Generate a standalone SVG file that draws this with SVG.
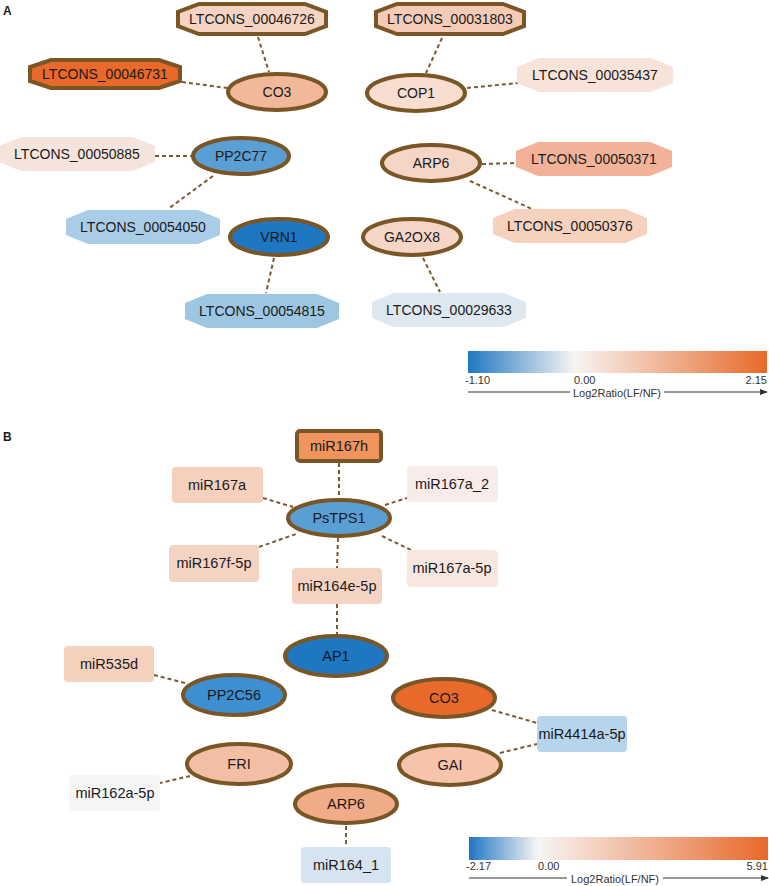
<svg xmlns="http://www.w3.org/2000/svg" width="769" height="886" viewBox="0 0 769 886">
<style>
text{font-family:"Liberation Sans",Arial,sans-serif;fill:#1a1a1a}
.la{font-size:14px;text-anchor:middle;dominant-baseline:central}
.lb{font-size:14.5px;text-anchor:middle;dominant-baseline:central}
.bd{stroke:#7a5626;stroke-width:4}
.e{stroke:#7a5a30;stroke-width:2;stroke-dasharray:4 3;fill:none}
.pl{font-size:12px;font-weight:bold}
.lg{font-size:11px;fill:#333}
</style>
<defs>
<linearGradient id="gA" x1="0" x2="1" y1="0" y2="0">
<stop offset="0" stop-color="#1f77c2"/><stop offset="0.355" stop-color="#f7f5f4"/><stop offset="1" stop-color="#e8692a"/>
</linearGradient>
<linearGradient id="gB" x1="0" x2="1" y1="0" y2="0">
<stop offset="0" stop-color="#1f77c2"/><stop offset="0.23" stop-color="#f7f5f4"/><stop offset="1" stop-color="#e8692a"/>
</linearGradient>
<marker id="ar" markerWidth="8" markerHeight="6" refX="7" refY="3" orient="auto" markerUnits="userSpaceOnUse">
<path d="M0,0 L8,3 L0,6 z" fill="#333"/>
</marker>
</defs>
<rect width="769" height="886" fill="#fff"/>
<text class="pl" x="3" y="15">A</text>
<text class="pl" x="3" y="441">B</text>
<g id="edges">
<line class="e" x1="258" y1="37" x2="269" y2="72"/>
<line class="e" x1="182" y1="82" x2="227" y2="88"/>
<line class="e" x1="155" y1="156" x2="191" y2="156"/>
<line class="e" x1="213" y1="176" x2="168" y2="209"/>
<line class="e" x1="274" y1="258" x2="266" y2="293"/>
<line class="e" x1="442" y1="38" x2="426" y2="73"/>
<line class="e" x1="467" y1="88" x2="518" y2="83"/>
<line class="e" x1="482" y1="164" x2="516" y2="163"/>
<line class="e" x1="470" y1="181" x2="532" y2="209"/>
<line class="e" x1="423" y1="258" x2="440" y2="292"/>
<line class="e" x1="339" y1="463" x2="339" y2="498"/>
<line class="e" x1="263" y1="498" x2="293" y2="507"/>
<line class="e" x1="259" y1="547" x2="296" y2="534"/>
<line class="e" x1="338" y1="538" x2="337" y2="568"/>
<line class="e" x1="385" y1="505" x2="407" y2="498"/>
<line class="e" x1="382" y1="536" x2="411" y2="550"/>
<line class="e" x1="337" y1="604" x2="337" y2="634"/>
<line class="e" x1="154" y1="675" x2="185" y2="683"/>
<line class="e" x1="190" y1="776" x2="160" y2="783"/>
<line class="e" x1="346" y1="826" x2="346" y2="847"/>
<line class="e" x1="492" y1="710" x2="537" y2="723"/>
<line class="e" x1="500" y1="753" x2="537" y2="744"/>
</g>
<g id="n46726"><polygon class="bd" fill="#f5d3c3" points="199,4 305,4 326,12 326,26 305,34 199,34 178,26 178,12"/><text class="la" x="252" y="19">LTCONS_00046726</text></g>
<g id="n46731"><polygon class="bd" fill="#e8692a" points="51,60 159,60 180,67 180,81 159,88 51,88 30,81 30,67"/><text class="la" x="105" y="74">LTCONS_00046731</text></g>
<g id="n31803"><polygon class="bd" fill="#f5cbb7" points="397,4 503,4 524,12 524,26 503,34 397,34 376,26 376,12"/><text class="la" x="450" y="19">LTCONS_00031803</text></g>
<g id="n35437"><polygon fill="#f7e3d8" points="539,58 651,58 673,67 673,83 651,92 539,92 517,83 517,67"/><text class="la" x="595" y="75">LTCONS_00035437</text></g>
<g id="n50885"><polygon fill="#f5e4db" points="21,137 133,137 155,146 155,162 133,171 21,171 -1,162 -1,146"/><text class="la" x="77" y="154">LTCONS_00050885</text></g>
<g id="n50371"><polygon fill="#f2b298" points="538,142 650,142 672,151 672,167 650,176 538,176 516,167 516,151"/><text class="la" x="594" y="159">LTCONS_00050371</text></g>
<g id="n50376"><polygon fill="#f5d1be" points="515,209 625,209 647,218 647,234 625,243 515,243 493,234 493,218"/><text class="la" x="570" y="226">LTCONS_00050376</text></g>
<g id="n54050"><polygon fill="#a9cde6" points="88,210 198,210 220,219 220,235 198,244 88,244 66,235 66,219"/><text class="la" x="143" y="227">LTCONS_00054050</text></g>
<g id="n54815"><polygon fill="#9dc6e3" points="207,294 317,294 339,303 339,319 317,328 207,328 185,319 185,303"/><text class="la" x="262" y="311">LTCONS_00054815</text></g>
<g id="n29633"><polygon fill="#dde8f1" points="394,293 504,293 526,302 526,318 504,327 394,327 372,318 372,302"/><text class="la" x="449" y="310">LTCONS_00029633</text></g>
<g id="aCO3"><ellipse class="bd" fill="#f1b899" cx="277" cy="92" rx="49" ry="18"/><text class="la" x="277" y="92">CO3</text></g>
<g id="aPP2C77"><ellipse class="bd" fill="#5a9fd4" cx="241" cy="156" rx="48" ry="18"/><text class="la" x="241" y="156">PP2C77</text></g>
<g id="aVRN1"><ellipse class="bd" fill="#1f77c2" cx="279" cy="237" rx="49" ry="18"/><text class="la" x="279" y="237">VRN1</text></g>
<g id="aCOP1"><ellipse class="bd" fill="#f8ddd0" cx="416" cy="93" rx="49" ry="18"/><text class="la" x="416" y="93">COP1</text></g>
<g id="aARP6"><ellipse class="bd" fill="#f5d5c6" cx="431" cy="163" rx="49" ry="18"/><text class="la" x="431" y="163">ARP6</text></g>
<g id="aGA2OX8"><ellipse class="bd" fill="#f5d5c6" cx="412" cy="237" rx="49" ry="18"/><text class="la" x="412" y="237">GA2OX8</text></g>
<g id="legendA">
<rect x="468" y="351" width="299" height="22" fill="url(#gA)"/>
<text class="lg" x="465" y="384">-1.10</text>
<text class="lg" x="574" y="384">0.00</text>
<text class="lg" x="767" y="384" text-anchor="end">2.15</text>
<line x1="468" y1="392" x2="570" y2="392" stroke="#333" stroke-width="1"/>
<line x1="664" y1="392" x2="767" y2="392" stroke="#333" stroke-width="1" marker-end="url(#ar)"/>
<text class="lg" x="617" y="397" text-anchor="middle">Log2Ratio(LF/NF)</text>
</g>
<g id="b167h"><rect class="bd" fill="#f0945e" x="297" y="431" width="84" height="30" rx="3"/><text class="lb" x="339" y="446">miR167h</text></g>
<g id="b167a"><rect fill="#f5d0bc" x="172" y="467" width="91" height="36" rx="4"/><text class="lb" x="217" y="485">miR167a</text></g>
<g id="b167f"><rect fill="#f5d3c3" x="169" y="545" width="90" height="37" rx="4"/><text class="lb" x="214" y="563">miR167f-5p</text></g>
<g id="b164e"><rect fill="#f5d3c3" x="292" y="568" width="90" height="36" rx="4"/><text class="lb" x="337" y="586">miR164e-5p</text></g>
<g id="b167a2"><rect fill="#f8ecea" x="407" y="466" width="91" height="36" rx="4"/><text class="lb" x="452" y="484">miR167a_2</text></g>
<g id="b167a5p"><rect fill="#f7e7de" x="407" y="550" width="91" height="37" rx="4"/><text class="lb" x="452" y="568">miR167a-5p</text></g>
<g id="b535d"><rect fill="#f5d0bc" x="64" y="646" width="90" height="36" rx="4"/><text class="lb" x="109" y="664">miR535d</text></g>
<g id="b162a"><rect fill="#f5f5f5" x="69" y="775" width="91" height="36" rx="4"/><text class="lb" x="115" y="793">miR162a-5p</text></g>
<g id="b164_1"><rect fill="#d5e4f0" x="301" y="847" width="90" height="36" rx="4"/><text class="lb" x="346" y="865">miR164_1</text></g>
<g id="b4414"><rect fill="#b7d5ea" x="537" y="716" width="90" height="36" rx="4"/><text class="lb" x="582" y="734">miR4414a-5p</text></g>
<g id="bPsTPS1"><ellipse class="bd" fill="#5a9fd4" cx="339" cy="518" rx="51" ry="18"/><text class="lb" x="339" y="518">PsTPS1</text></g>
<g id="bAP1"><ellipse class="bd" fill="#1f77c2" cx="336" cy="656" rx="51" ry="20"/><text class="lb" x="336" y="656">AP1</text></g>
<g id="bPP2C56"><ellipse class="bd" fill="#3d8fd0" cx="234" cy="695" rx="51" ry="20"/><text class="lb" x="234" y="695">PP2C56</text></g>
<g id="bFRI"><ellipse class="bd" fill="#f2bfa5" cx="239" cy="764" rx="52" ry="20"/><text class="lb" x="239" y="764">FRI</text></g>
<g id="bARP6"><ellipse class="bd" fill="#f0ac88" cx="346" cy="804" rx="51" ry="19"/><text class="lb" x="346" y="804">ARP6</text></g>
<g id="bCO3"><ellipse class="bd" fill="#e8692a" cx="444" cy="698" rx="51" ry="19"/><text class="lb" x="444" y="698">CO3</text></g>
<g id="bGAI"><ellipse class="bd" fill="#f5c4ab" cx="450" cy="765" rx="51" ry="20"/><text class="lb" x="450" y="765">GAI</text></g>
<g id="legendB">
<rect x="469" y="837" width="299" height="23" fill="url(#gB)"/>
<text class="lg" x="466" y="870">-2.17</text>
<text class="lg" x="538" y="870">0.00</text>
<text class="lg" x="768" y="870" text-anchor="end">5.91</text>
<line x1="469" y1="878" x2="567" y2="878" stroke="#333" stroke-width="1"/>
<line x1="663" y1="878" x2="768" y2="878" stroke="#333" stroke-width="1" marker-end="url(#ar)"/>
<text class="lg" x="615" y="883" text-anchor="middle">Log2Ratio(LF/NF)</text>
</g>
</svg>
